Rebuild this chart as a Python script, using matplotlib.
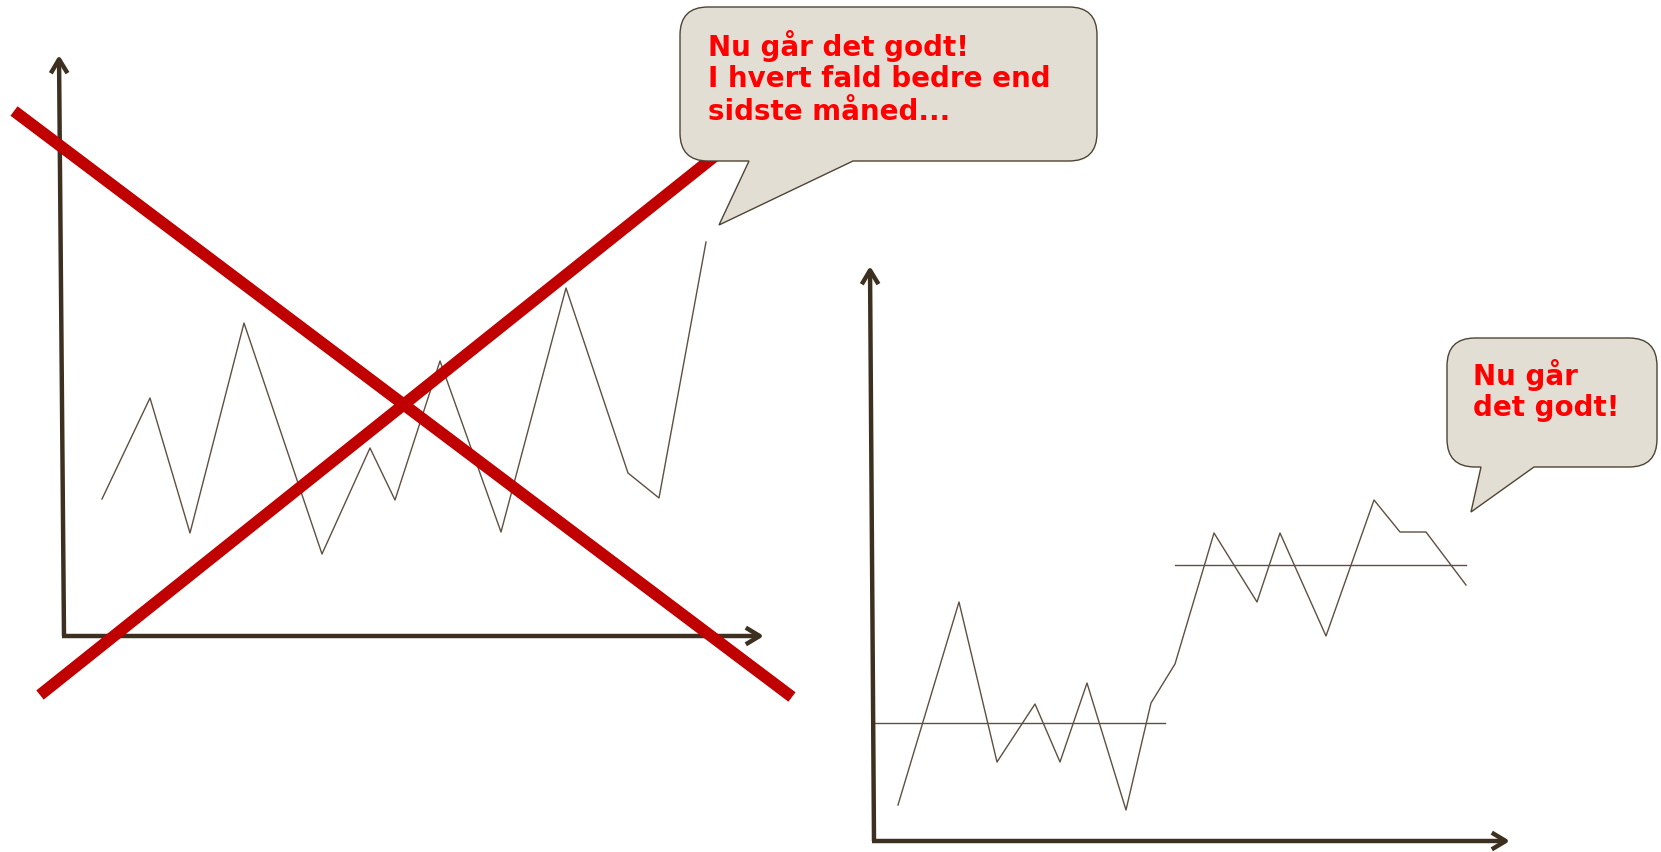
import matplotlib
matplotlib.use("Agg")
import matplotlib.pyplot as plt
from matplotlib.path import Path
from matplotlib.patches import PathPatch

# left sketch: "last month" series (pixel space of the drawing)
left_x = [102, 150, 190, 244, 322, 370, 395, 440, 501, 566, 628, 659, 706]
left_y = [500, 399, 534, 324, 555, 449, 501, 362, 533, 289, 474, 499, 243]

# right sketch: series with two level shifts
right_x = [898, 959, 997, 1035, 1060, 1087, 1126, 1151, 1175, 1214, 1257, 1280,
           1326, 1374, 1400, 1426, 1466]
right_y = [806, 603, 763, 705, 763, 684, 811, 704, 665, 534, 603, 534,
           637, 501, 533, 533, 586]

# mean levels of the two periods: (x start, x end, level)
levels = [(874, 1165, 724), (1175, 1466, 566)]

bubble1_text = ["Nu går det godt!", "I hvert fald bedre end", "sidste måned..."]
bubble2_text = ["Nu går", "det godt!"]

AXIS_C = "#3d3020"
LINE_C = "#5e5040"
RED = "#c00000"
BUBBLE_FILL = "#e2ded3"
BUBBLE_EDGE = "#4f4434"


def bubble(ax, x0, y0, x1, y1, r, tail):
    (tl, tr, tip) = tail
    v = [(x0 + r, y0), (x1 - r, y0), (x1, y0), (x1, y0 + r),
         (x1, y1 - r), (x1, y1), (x1 - r, y1),
         (tr, y1), tip, (tl, y1),
         (x0 + r, y1), (x0, y1), (x0, y1 - r),
         (x0, y0 + r), (x0, y0), (x0 + r, y0), (x0 + r, y0)]
    c = [Path.MOVETO, Path.LINETO, Path.CURVE3, Path.CURVE3,
         Path.LINETO, Path.CURVE3, Path.CURVE3,
         Path.LINETO, Path.LINETO, Path.LINETO,
         Path.LINETO, Path.CURVE3, Path.CURVE3,
         Path.LINETO, Path.CURVE3, Path.CURVE3, Path.CLOSEPOLY]
    ax.add_patch(PathPatch(Path(v, c), facecolor=BUBBLE_FILL, edgecolor=BUBBLE_EDGE,
                           lw=1.0, zorder=5))


def axis_arrow(ax, start, end):
    ax.annotate("", xy=end, xytext=start,
                arrowprops=dict(arrowstyle="->,head_length=1.0,head_width=0.6",
                                color=AXIS_C, lw=3.2, shrinkA=0, shrinkB=0,
                                capstyle="butt"), zorder=3)


fig = plt.figure(figsize=(16.61, 8.53), dpi=100)
ax = fig.add_axes([0, 0, 1, 1])
ax.set_xlim(0, 1661)
ax.set_ylim(853, 0)
ax.axis("off")

# left sketch
axis_arrow(ax, (64, 637), (59, 56))
axis_arrow(ax, (62, 637), (764, 637))
ax.plot(left_x, left_y, color=LINE_C, lw=1.0, zorder=2)

# big red cross
ax.plot([14, 792], [112, 698], color=RED, lw=8.5, solid_capstyle="butt", zorder=4)
ax.plot([40, 740], [696, 137], color=RED, lw=8.5, solid_capstyle="butt", zorder=4)

bubble(ax, 680, 8, 1097, 162, 28, (749, 853, (719, 226)))
for i, s in enumerate(bubble1_text):
    ax.text(708, 46 + i * 33, s, color="#ff0000", fontsize=20, fontweight="bold",
            family="DejaVu Sans", va="center", ha="left", zorder=6)

# right sketch
axis_arrow(ax, (874, 842), (870, 267))
axis_arrow(ax, (872, 842), (1510, 842))
ax.plot(right_x, right_y, color=LINE_C, lw=1.0, zorder=2)
for xa, xb, lv in levels:
    ax.plot([xa, xb], [lv, lv], color=LINE_C, lw=1.0, zorder=2)

bubble(ax, 1447, 339, 1657, 468, 28, (1481, 1534, (1471, 513)))
for i, s in enumerate(bubble2_text):
    ax.text(1473, 375 + i * 33, s, color="#ff0000", fontsize=20, fontweight="bold",
            family="DejaVu Sans", va="center", ha="left", zorder=6)

fig.savefig("out.png", dpi=100)
